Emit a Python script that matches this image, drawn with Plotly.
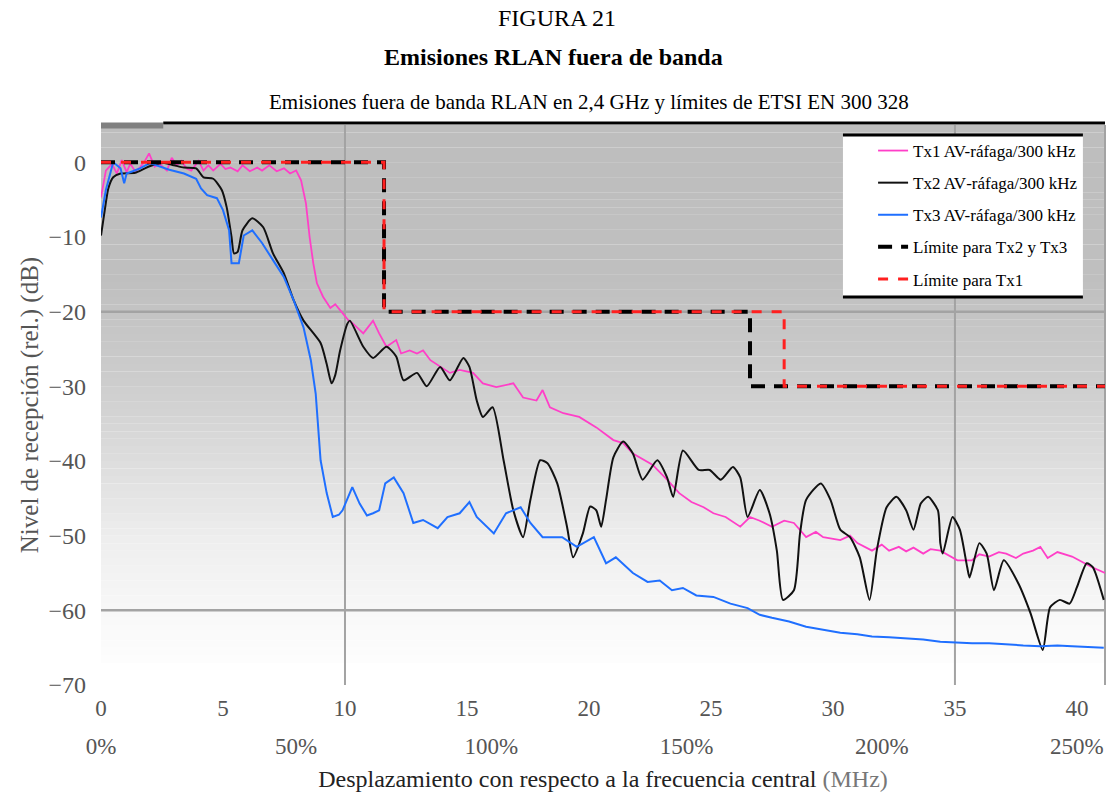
import plotly.graph_objects as go

# ---------------- data ----------------
tx1_f = [0, 0.2, 0.45, 0.65, 0.85, 1.05, 1.2, 1.4, 1.6, 1.8, 1.97, 2.2, 2.4, 2.7, 2.9, 3.1, 3.3, 3.5,
         3.7, 4.0, 4.2, 4.4, 4.6, 4.9, 5.1, 5.3, 5.6, 5.8, 6.1, 6.4, 6.6, 6.9, 7.2, 7.5, 7.75, 8.0,
         8.2, 8.4, 8.55, 8.7, 8.85, 9.1, 9.4, 9.6, 9.8, 10.15, 10.3, 10.75, 11.15, 11.4, 11.7, 12.1,
         12.3, 12.65, 12.95, 13.2, 13.5, 13.9, 14.3, 14.7, 15.25, 15.65, 16.2, 16.9, 17.3, 17.85,
         18.1, 18.4, 18.95, 19.6, 20.3, 21.0, 21.4, 21.8, 22.2, 22.6, 23.2, 23.7, 24.2, 24.7, 25.1,
         25.6, 26.2, 26.6, 27.0, 27.5, 28.0, 28.4, 28.9, 29.3, 29.6, 30.3, 30.7, 31.0, 31.6, 32.0,
         32.3, 32.7, 33.0, 33.3, 33.7, 34.0, 34.4, 35.1, 35.7, 36.0, 36.4, 36.8, 37.1, 37.5, 37.8,
         38.2, 38.5, 38.8, 39.2, 39.8, 40.2, 40.6, 41.15]
tx1_db = [-4.7, -1.1, -0.2, -1.5, 0.3, -1.3, -0.2, -1.2, -0.7, 0.2, 1.2, -0.6, -0.2, -1.1, 0.6, -0.4,
          0.2, -0.8, -1.1, 0.2, -1.1, -0.4, -1.1, -0.2, -0.9, -0.7, -1.2, -0.4, -1.2, -0.7, -1.1, -0.4,
          -1.2, -0.8, -1.5, -1.1, -2.4, -5.5, -10.0, -13.5, -16.2, -18.0, -19.5, -19.0, -19.8, -21.2,
          -21.5, -22.9, -21.2, -22.9, -24.7, -23.8, -25.6, -25.2, -25.6, -25.2, -26.5, -27.4, -28.2,
          -27.8, -28.2, -29.6, -30.1, -29.6, -31.5, -31.9, -30.5, -32.8, -33.6, -34.1, -35.5, -37.2,
          -37.6, -39.0, -39.8, -40.5, -42.5, -44.3, -45.5, -46.2, -47.0, -47.5, -48.8, -47.5, -48.0,
          -48.8, -48.0, -48.3, -50.2, -49.5, -50.2, -50.6, -50.0, -51.0, -52.0, -51.2, -52.0, -51.5,
          -52.1, -51.6, -52.4, -51.8, -52.0, -53.3, -53.3, -52.5, -52.8, -52.2, -52.4, -53.0, -52.4,
          -52.0, -51.5, -53.0, -52.2, -52.8, -53.5, -54.2, -55.0]

tx2_f = [0, 0.15, 0.3, 0.5, 0.8, 1.4, 1.8, 2.2, 2.6, 3.0, 3.4, 3.9, 4.2, 4.6, 4.95, 5.15, 5.35, 5.45,
         5.6, 5.8, 6.2, 6.65, 7.05, 7.5, 7.9, 8.3, 9.0, 9.25, 9.45, 9.6, 9.8, 10.1, 10.2, 10.75, 11.15,
         11.7, 12.1, 12.4, 12.95, 13.35, 13.9, 14.3, 14.85, 15.1, 15.4, 15.65, 16.05, 16.5, 16.9,
         17.3, 17.6, 18.0, 18.3, 18.7, 19.1, 19.35, 19.75, 20.05, 20.3, 20.5, 20.7, 21.0, 21.4, 21.8,
         22.2, 22.8, 23.2, 23.45, 23.85, 24.5, 24.95, 25.4, 25.9, 26.2, 26.5, 27.0, 27.4, 27.7, 27.95,
         28.4, 28.65, 28.9, 29.5, 29.9, 30.3, 30.7, 31.1, 31.5, 31.8, 32.2, 32.6, 33.0, 33.3, 33.6,
         33.9, 34.3, 34.4, 34.5, 34.9, 35.2, 35.5, 35.6, 36.0, 36.3, 36.6, 37.0, 37.6, 38.1, 38.6,
         38.9, 39.3, 39.7, 40.0, 40.4, 40.65, 41.1]
tx2_db = [-9.8, -6.5, -3.5, -2.0, -1.5, -1.4, -0.8, -0.3, -0.1, -0.4, -0.7, -0.8, -2.0, -2.2, -3.7,
          -6.0, -10.0, -12.2, -12.0, -9.1, -7.5, -8.7, -12.2, -14.9, -18.5, -21.2, -24.2, -27.0,
          -29.6, -28.5, -25.2, -21.6, -21.2, -24.7, -26.2, -24.7, -26.0, -29.2, -28.2, -30.0, -27.4,
          -29.2, -26.2, -27.4, -31.9, -34.1, -32.8, -39.9, -46.6, -50.2, -45.2, -39.9, -40.3, -43.0,
          -48.8, -52.9, -49.7, -46.1, -46.6, -48.8, -45.2, -39.5, -37.4, -39.0, -42.5, -39.9, -42.2,
          -44.8, -38.6, -41.2, -41.2, -42.5, -40.8, -42.2, -47.5, -43.9, -47.0, -52.0, -58.6, -57.3,
          -49.7, -45.2, -43.0, -45.2, -49.2, -50.2, -52.9, -58.6, -51.9, -46.2, -44.8, -46.6, -49.2,
          -45.7, -44.8, -46.6, -51.0, -52.4, -47.5, -49.2, -54.2, -55.6, -51.0, -52.4, -57.3, -53.3,
          -56.4, -60.4, -65.3, -59.6, -58.6, -59.1, -56.9, -53.7, -54.2, -58.6]

tx3_f = [0, 0.2, 0.5, 0.8, 0.95, 1.05, 1.3, 1.6, 2.0, 2.4, 2.8, 3.4, 3.9, 4.1, 4.35, 4.75, 5.0, 5.25,
         5.35, 5.65, 5.85, 6.2, 6.6, 7.05, 7.5, 7.9, 8.3, 8.6, 8.8, 9.0, 9.25, 9.5, 9.75, 9.9, 10.2,
         10.3, 10.6, 10.9, 11.15, 11.4, 11.65, 12.0, 12.4, 12.8, 13.2, 13.8, 14.2, 14.7, 15.1, 15.4,
         16.1, 16.6, 17.2, 17.6, 18.1, 18.9, 19.5, 20.2, 20.7, 21.1, 21.8, 22.4, 22.9, 23.4, 23.85,
         24.4, 25.1, 25.8, 26.5, 27.0, 27.5, 28.2, 28.9, 29.6, 30.3, 31.0, 31.6, 32.3, 33.0, 33.7,
         34.4, 35.0, 35.7, 36.4, 37.1, 37.8, 38.5, 39.2, 39.8, 40.5, 41.1]
tx3_db = [-7.4, -3.7, 0.0, -0.8, -2.8, -1.5, -1.2, -0.8, -0.1, -0.6, -1.0, -1.5, -2.2, -3.5, -4.4,
          -4.8, -6.4, -9.1, -13.5, -13.5, -9.8, -9.1, -10.8, -13.1, -15.4, -18.5, -22.1, -26.5, -31.0,
          -39.9, -44.3, -47.5, -47.2, -46.6, -44.3, -43.5, -45.7, -47.3, -47.0, -46.6, -43.0, -42.2,
          -44.3, -48.3, -47.9, -49.0, -47.5, -47.0, -45.5, -47.5, -49.7, -47.0, -46.2, -48.3, -50.2,
          -50.2, -51.5, -50.2, -53.7, -52.9, -55.0, -56.2, -56.0, -57.3, -57.0, -58.0, -58.2, -59.1,
          -59.7, -60.6, -61.0, -61.5, -62.2, -62.6, -63.0, -63.2, -63.5, -63.6, -63.7, -63.9, -64.2,
          -64.3, -64.4, -64.4, -64.6, -64.7, -64.8, -64.7, -64.8, -64.9, -65.0]

lim23_f = [0, 11.6, 11.6, 26.6, 26.6, 41.15]
lim23_db = [0, 0, -20, -20, -30, -30]
lim1_f = [0, 11.6, 11.6, 28.0, 28.0, 41.15]
lim1_db = [0, 0, -20, -20, -30, -30]

x_ticks = [0, 5, 10, 15, 20, 25, 30, 35, 40]
pct_ticks = [0, 8, 16, 24, 32, 40]
pct_labels = ["0%", "50%", "100%", "150%", "200%", "250%"]
y_ticks = [0, -10, -20, -30, -40, -50, -60, -70]

names = ["Tx1 AV-ráfaga/300 kHz", "Tx2 AV‑ráfaga/300 kHz", "Tx3 AV-ráfaga/300 kHz",
         "Límite para Tx2 y Tx3", "Límite para Tx1"]

FONT = "Liberation Serif"
X_RANGE = [0, 41.15]
Y_RANGE = [-70, 5]

fig = go.Figure()

fig.add_trace(go.Scatter(x=tx1_f, y=tx1_db, mode="lines", name=names[0], legendgroup="a",
                         line=dict(color="#ff3fc8", width=1.8)))
fig.add_trace(go.Scatter(x=tx2_f, y=tx2_db, mode="lines", name=names[1], legendgroup="b",
                         line=dict(color="#111111", width=2, shape="spline", smoothing=0.6)))
fig.add_trace(go.Scatter(x=tx3_f, y=tx3_db, mode="lines", name=names[2], legendgroup="c",
                         line=dict(color="#1f6fff", width=2)))
fig.add_trace(go.Scatter(x=lim23_f, y=lim23_db, mode="lines", name=names[3], legendgroup="d",
                         line=dict(color="#000000", width=4, dash="14px,9px")))
fig.add_trace(go.Scatter(x=lim1_f, y=lim1_db, mode="lines", name=names[4], legendgroup="e",
                         line=dict(color="#ff2020", width=3, dash="10px,10px")))
# carrier trace for the percentage axis
fig.add_trace(go.Scatter(x=[X_RANGE[0], X_RANGE[1]], y=[None, None], xaxis="x2", mode="lines",
                         showlegend=False, hoverinfo="skip"))

# ---------------- background gradient ----------------
def grey(db):
    pts = [(5, 190), (-15, 191), (-20, 195), (-30, 206), (-40, 221), (-50, 237), (-60, 248), (-67, 253)]
    for (a, ca), (b, cb) in zip(pts[:-1], pts[1:]):
        if b <= db <= a:
            t = (a - db) / (a - b)
            return int(round(ca + t * (cb - ca)))
    return 255

shapes = []
db = 5.0
while db > -67:
    c = grey(db - 0.5)
    shapes.append(dict(type="rect", xref="paper", yref="y", x0=0, x1=1, y0=db - 1.02, y1=db,
                       fillcolor=f"rgb({c},{c},{c})", line=dict(width=0), layer="below"))
    db -= 1.0

GRID = "#a3a3a3"
for gx in [10, 35]:
    shapes.append(dict(type="line", xref="x", yref="paper", x0=gx, x1=gx, y0=0, y1=1,
                       line=dict(color=GRID, width=2), layer="below"))
for gy in [-20, -60]:
    shapes.append(dict(type="line", xref="paper", yref="y", x0=0, x1=1, y0=gy, y1=gy,
                       line=dict(color=GRID, width=2.5), layer="below"))
shapes.append(dict(type="line", xref="paper", yref="paper", x0=1, x1=1, y0=0, y1=1,
                   line=dict(color=GRID, width=2), layer="below"))
# top border
shapes.append(dict(type="line", xref="paper", yref="paper", x0=0, x1=0.062, y0=0.999, y1=0.999,
                   line=dict(color="#808080", width=6), layer="above"))
shapes.append(dict(type="line", xref="paper", yref="paper", x0=0.062, x1=1, y0=1.0036, y1=1.0036,
                   line=dict(color="#000000", width=3), layer="above"))
# legend box
LX0, LX1, LY0, LY1 = 0.739, 0.978, 0.693, 0.982
shapes.append(dict(type="rect", xref="paper", yref="paper", x0=LX0, x1=LX1, y0=LY0, y1=LY1,
                   fillcolor="white", line=dict(width=0), layer="above"))
for ly in [LY0, LY1]:
    shapes.append(dict(type="line", xref="paper", yref="paper", x0=LX0, x1=LX1, y0=ly, y1=ly,
                       line=dict(color="#000000", width=3), layer="above"))

annotations = [
    dict(text="FIGURA 21", xref="paper", yref="paper", x=(557 - 101) / 1004, y=(685 - 18) / 560,
         showarrow=False, font=dict(family=FONT, size=24, color="#000"), xanchor="center", yanchor="middle"),
    dict(text="<b>Emisiones RLAN fuera de banda</b>", xref="paper", yref="paper", x=(553 - 101) / 1004,
         y=(685 - 57) / 560, showarrow=False, font=dict(family=FONT, size=24, color="#000"),
         xanchor="center", yanchor="middle"),
    dict(text="Emisiones fuera de banda RLAN en 2,4 GHz y límites de ETSI EN 300 328", xref="paper",
         yref="paper", x=(589 - 101) / 1004, y=(685 - 102) / 560, showarrow=False,
         font=dict(family=FONT, size=21, color="#000"), xanchor="center", yanchor="middle"),
]

fig.update_layout(
    width=1115, height=792,
    margin=dict(l=101, r=10, t=125, b=107, autoexpand=False),
    paper_bgcolor="white", plot_bgcolor="white",
    font=dict(family=FONT, size=19, color="#555555"),
    shapes=shapes, annotations=annotations,
    showlegend=True,
    legend=dict(x=0.769, y=0.9857, xanchor="left", yanchor="top", bgcolor="rgba(0,0,0,0)",
                borderwidth=0, font=dict(family=FONT, size=17, color="#000"),
                tracegroupgap=7, itemwidth=30),
    xaxis=dict(range=X_RANGE, tickvals=x_ticks, showgrid=False, zeroline=False, showline=False,
               automargin=False,
               ticks="", ticklabelstandoff=7, tickfont=dict(family=FONT, size=23, color="#555555"),
               title=dict(text="Desplazamiento con respecto a la frecuencia central <span style='color:#777'>(MHz)</span>",
                          font=dict(family=FONT, size=24, color="#222222"), standoff=52)),
    xaxis2=dict(range=X_RANGE, overlaying="x", anchor="y", side="bottom", tickvals=pct_ticks,
                automargin=False,
                ticktext=pct_labels, showgrid=False, zeroline=False, showline=False, ticks="",
                ticklabelstandoff=45, tickfont=dict(family=FONT, size=23, color="#555555")),
    yaxis=dict(range=Y_RANGE, tickvals=y_ticks, showgrid=False, zeroline=False, showline=False,
               automargin=False,
               ticks="", ticklabelstandoff=14, tickfont=dict(family=FONT, size=24, color="#555555"),
               title=dict(text="Nivel de recepción (rel.) (dB)",
                          font=dict(family=FONT, size=25, color="#555555"), standoff=2)),
)

fig.write_html("out.html")
